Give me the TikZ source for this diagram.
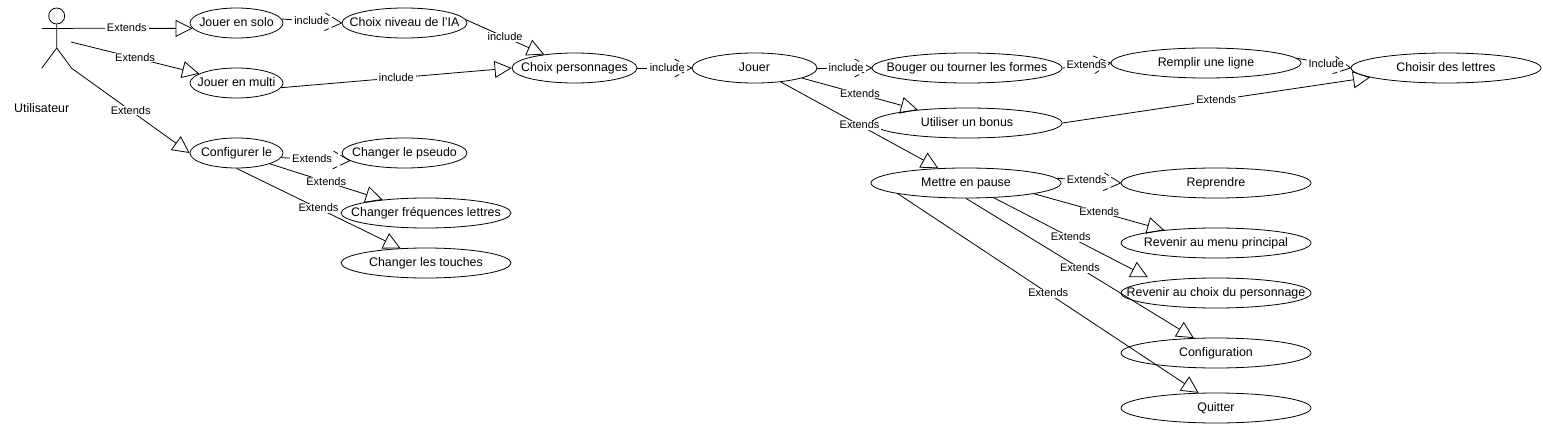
\documentclass[tikz,border=0pt]{standalone}
\usepackage{fontspec}
\setmainfont{Liberation Sans}
\usetikzlibrary{arrows.meta,shapes.geometric}
% open arrow head whose two arms are dashed
\pgfdeclarearrow{
  name=dashvee,
  setup code={\pgfarrowssettipend{0pt}\pgfarrowssetlineend{-1pt}\pgfarrowssetbackend{-19pt}\pgfarrowssetvisualbackend{-1pt}},
  drawing code={
    \pgfsetdash{{11pt}{3pt}{5pt}{100pt}}{0pt}
    \pgfpathmoveto{\pgfqpoint{0pt}{0pt}}\pgfpathlineto{\pgfqpoint{-19pt}{10pt}}
    \pgfpathmoveto{\pgfqpoint{0pt}{0pt}}\pgfpathlineto{\pgfqpoint{-19pt}{-10pt}}
    \pgfusepathqstroke}
}
\tikzset{
  casetext/.style={font=\fontsize{12.4}{14}\selectfont,text height=9pt,text depth=1.5pt,inner sep=0pt},
  % the text takes no width, the ellipse keeps its size
  usecase/.style={casetext,draw,ellipse,minimum height=30pt,
    execute at begin node={\hbox to 0pt\bgroup\hss},execute at end node={\hss\egroup}},
  small/.style={usecase,minimum width=93pt},
  medium/.style={usecase,minimum width=125pt},
  wide/.style={usecase,minimum width=170pt},
  large/.style={usecase,minimum width=190pt},
  lbl/.style={font=\fontsize{11}{13}\selectfont,fill=white,text height=8pt,text depth=1pt,inner xsep=2pt,inner ysep=0pt},
  ext/.style={-{Triangle[open,length=17pt,width=17pt]}},
  inc/.style={-{dashvee},dash pattern=on 10pt off 100pt}
}
\begin{document}
\begin{tikzpicture}[x=1pt,y=-1pt,line width=0.8pt]
\useasboundingbox (0,0) rectangle (1543,428);
% actor
\node(head)[circle,draw,minimum size=16pt,inner sep=0pt] at (56.7,16) {};
\coordinate(armL) at (41.7,28.3);
\coordinate(armR) at (73,28.3);
\coordinate(flank) at (71,42);
\coordinate(hip) at (56.7,48);
\coordinate(footL) at (41.7,68.3);
\coordinate(footR) at (71.7,68.3);
\node(actor)[casetext] at (41.7,108.5) {Utilisateur};
\draw(head) -- (hip) -- (footL);
\draw(hip) -- (footR);
\draw(armL) -- (armR);
% left column
\node(solo)[small] at (236.5,23) {Jouer en solo};
\node(multi)[small,below of=solo,node distance=60pt] {Jouer en multi};
\node(conf)[small,below of=multi,node distance=70pt] {Configurer le};
\node(ia)[medium,right of=solo,node distance=168pt] {Choix niveau de l'IA};
\node(pseudo)[medium,right of=conf,node distance=168pt] {Changer le pseudo};
\node(freq)[wide] at (426,213) {Changer fréquences lettres};
\node(touches)[wide,below of=freq,node distance=50pt] {Changer les touches};
% game
\node(perso)[medium] at (574.5,68) {Choix personnages};
\node(jouer)[medium,right of=perso,node distance=180pt] {Jouer};
\node(bouger)[large,right of=jouer,node distance=212.5pt] {Bouger ou tourner les formes};
\node(bonus)[large,below of=bouger,node distance=55pt] {Utiliser un bonus};
\node(remplir)[large] at (1206,63) {Remplir une ligne};
\node(choisir)[large] at (1446,68) {Choisir des lettres};
% pause menu
\node(pause)[large] at (966,183) {Mettre en pause};
\node(reprendre)[large,right of=pause,node distance=250pt] {Reprendre};
\node(menu)[large,below of=reprendre,node distance=60pt] {Revenir au menu principal};
\node(retour)[large,below of=menu,node distance=50pt] {Revenir au choix du personnage};
\node(config)[large,below of=retour,node distance=60pt] {Configuration};
\node(quitter)[large,below of=config,node distance=55pt] {Quitter};
% connectors
\draw[ext](armR) to node[lbl,pos=.45] {Extends}(solo.187);
\draw[ext](flank) to node[lbl] {Extends}(multi.166.5);
\draw[ext](footR) to node[lbl] {Extends}(conf.west);
\draw[inc](solo.5) to node[lbl] {include}(ia.west);
\draw[ext](ia.3) to node[lbl] {include}(perso.156.4);
\draw[ext](multi.-6) to node[lbl] {include}(perso.west);
\draw[inc](conf.-6.3) to node[lbl,pos=.45] {Extends}(pseudo.188);
\draw[ext](conf.-18) to node[lbl] {Extends}(freq.163);
\draw[ext](conf.south) to node[lbl] {Extends}(touches.150);
\draw[inc](perso.east) to node[lbl,pos=.55] {include}(jouer.west);
\draw[inc](jouer.east) to node[lbl,pos=.53] {include}(bouger.west);
\draw[inc](bouger.east) to node[lbl] {Extends}(remplir.west);
\draw[inc](remplir.3) to node[lbl,pos=.55] {Include}(choisir.west);
\draw[ext](jouer.-12) to node[lbl] {Extends}(bonus.165.4);
\draw[ext](jouer.-28) to node[lbl] {Extends}(pause.152);
\draw[ext](bonus.east) to node[lbl] {Extends}(choisir.187);
\draw[inc](pause.3.3) to node[lbl,pos=.47] {Extends}(reprendre.west);
\draw[ext](pause.-9.3) to node[lbl] {Extends}(menu.166);
\draw[ext](pause.-28) to node[lbl] {Extends}([yshift=5pt]retour.171);
\draw[ext](pause.south) to node[lbl] {Extends}(config.146);
\draw[ext](pause.189.7) to node[lbl] {Extends}(quitter.139);
\end{tikzpicture}
\end{document}
